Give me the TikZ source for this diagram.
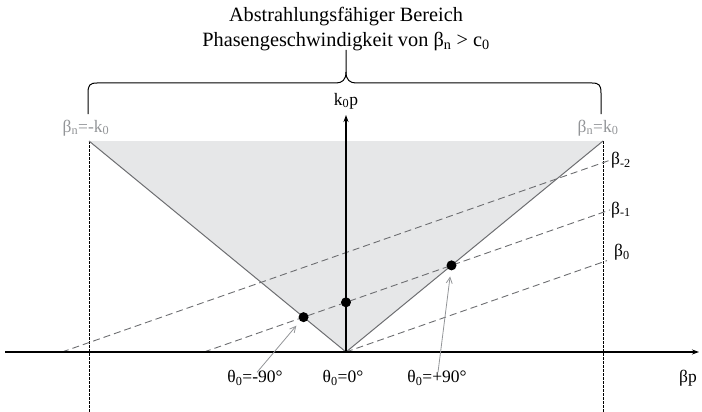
\documentclass[tikz,border=0pt]{standalone}
\usepackage{fontspec}
\setmainfont{Liberation Serif}
\usetikzlibrary{arrows.meta}
\definecolor{shadegray}{HTML}{E6E7E8}
\definecolor{edgegray}{HTML}{6D6E71}
\definecolor{lblgray}{HTML}{939598}
\tikzset{
  lbl/.style={inner sep=1pt, font=\fontsize{17.5}{21}\selectfont},
  glbl/.style={lbl, text=lblgray},
  axis/.style={line width=1.1pt, -{Stealth[length=7pt,width=5pt]}},
  edge/.style={edgegray, line width=1pt},
  dline/.style={edgegray, line width=0.9pt, dash pattern=on 7pt off 4pt},
  vdash/.style={black, line width=0.8pt, dash pattern=on 2.5pt off 1.5pt},
  dot/.style={circle, fill=black, inner sep=0pt, minimum size=10pt},
  garrow/.style={lblgray, line width=0.8pt, -{Straight Barb[length=6pt,width=6pt]}, shorten >=6pt},
}
\begin{document}
\begin{tikzpicture}[x=1pt,y=-1pt]
\useasboundingbox (0,0) rectangle (702,412);
% key points
\coordinate (O) at (346,352);
\coordinate (TL) at (89,141);
\coordinate (TR) at (603,141);
\coordinate (XL) at (5,352);
\coordinate (XR) at (699,352);
\coordinate (YT) at (346,115);
\coordinate (VLb) at (89,412);
\coordinate (VRb) at (603,412);
% shaded region
\fill[shadegray] (O) -- (TL) -- (TR) -- cycle;
% dashed verticals
\draw[vdash] (TL) -- (VLb);
\draw[vdash] (TR) -- (VRb);
% triangle edges
\draw[edge] (TL) -- (O) -- (TR);
% beta lines
\coordinate (B0s) at (346,352);
\coordinate (B0e) at (607,260.6);
\coordinate (B1s) at (204,352);
\coordinate (B1e) at (610,209.9);
\coordinate (B2s) at (62,352);
\coordinate (B2e) at (610,160.2);
\draw[dline] (B0s) -- (B0e);
\draw[dline] (B1s) -- (B1e);
\draw[dline] (B2s) -- (B2e);
\node[lbl, anchor=west] (lb2) at (B2e) {β\textsubscript{-2}};
\node[lbl, anchor=west] (lb1) at (B1e) {β\textsubscript{-1}};
\node[lbl, anchor=south west] (lb0) at ([xshift=6pt,yshift=-1pt]B0e) {β\textsubscript{0}};
% axes
\draw[axis] (XL) -- (XR);
\draw[axis] (O) -- (YT);
\node[lbl] (kp) at (346,101) {k\textsubscript{0}p};
\node[lbl] (bp) at (688,378) {βp};
% dots
\node[dot] (dA) at (intersection of TL--O and B1s--B1e) {};
\node[dot] (dB) at (intersection of O--YT and B1s--B1e) {};
\node[dot] (dC) at (intersection of O--TR and B1s--B1e) {};
% theta labels
\node[lbl] (tm) at (255,378) {θ\textsubscript{0}=-90°};
\node[lbl] (tz) at (343,378) {θ\textsubscript{0}=0°};
\node[lbl] (tp) at (437,378) {θ\textsubscript{0}=+90°};
\draw[garrow] ([xshift=2pt,yshift=-3pt]tm.north) -- (dA);
\draw[garrow] ([xshift=1pt,yshift=-3pt]tp.north) -- (dC);
% boundary labels
\node[glbl] (bl) at (86,128) {β\textsubscript{n}=-k\textsubscript{0}};
\node[glbl] (br) at (598,128) {β\textsubscript{n}=k\textsubscript{0}};
% brace
\coordinate (BrL) at (88,114);
\coordinate (BrR) at (601,114);
\coordinate (BrT) at (346,50);
\draw[line width=1pt] (BrL) -- (88,93) .. controls (88,85) and (90,83) .. (97,83)
  -- (336,83) .. controls (342,83) and (346,80) .. (346,72) -- (BrT);
\draw[line width=1pt] (BrR) -- (601,93) .. controls (601,85) and (599,83) .. (592,83)
  -- (356,83) .. controls (350,83) and (346,80) .. (346,72);
% title
\node[lbl, align=center, font=\fontsize{20.3}{24.5}\selectfont] (title) at (346,29)
  {Abstrahlungsfähiger Bereich\\Phasengeschwindigkeit von β\textsubscript{n} > c\textsubscript{0}};
\end{tikzpicture}
\end{document}
